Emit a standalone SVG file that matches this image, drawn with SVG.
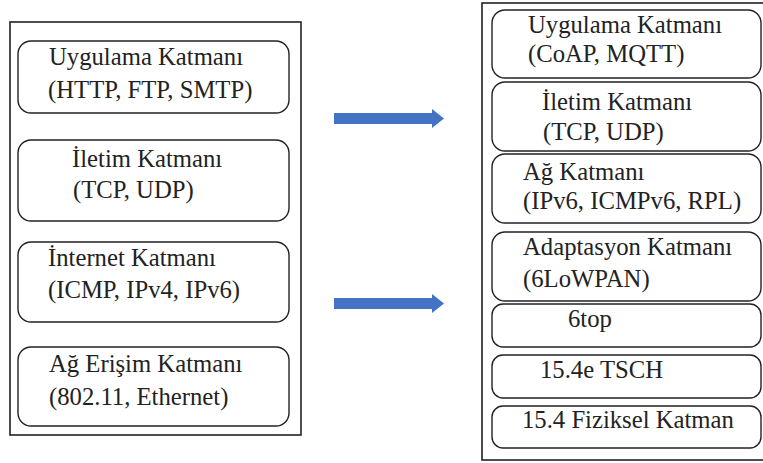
<svg xmlns="http://www.w3.org/2000/svg" width="763" height="463" viewBox="0 0 763 463">
  <style>
    .outer { fill: #ffffff; stroke: #222222; stroke-width: 1.6; }
    .layer { fill: #ffffff; stroke: #222222; stroke-width: 1.4; }
    .t { font-family: 'Liberation Serif', 'DejaVu Serif', serif; font-size: 24.7px; fill: #222222; }
    .arrow { fill: #4472C4; }
  </style>
  <rect x="0" y="0" width="763" height="463" fill="#ffffff"/>

  <g id="left-stack">
    <rect class="outer" x="10" y="22" width="291" height="413"/>
    <g id="l-app">
      <rect class="layer" x="18" y="41" width="271" height="72" rx="13"/>
      <text class="t" x="49" y="65">Uygulama Katmanı</text>
      <text class="t" x="48" y="98">(HTTP, FTP, SMTP)</text>
    </g>
    <g id="l-transport">
      <rect class="layer" x="18" y="140" width="271" height="81" rx="13"/>
      <text class="t" x="72" y="167">İletim Katmanı</text>
      <text class="t" x="73" y="198">(TCP, UDP)</text>
    </g>
    <g id="l-internet">
      <rect class="layer" x="18" y="242" width="271" height="80" rx="13"/>
      <text class="t" x="48" y="266">İnternet Katmanı</text>
      <text class="t" x="48" y="298">(ICMP, IPv4, IPv6)</text>
    </g>
    <g id="l-access">
      <rect class="layer" x="18" y="347" width="271" height="79" rx="13"/>
      <text class="t" x="49" y="372">Ağ Erişim Katmanı</text>
      <text class="t" x="49" y="405">(802.11, Ethernet)</text>
    </g>
  </g>

  <g id="connectors">
    <path class="arrow" d="M334 113 H432 V109 L444 118.5 L432 128 V124 H334 Z"/>
    <path class="arrow" d="M334 298 H432 V294 L444 303.5 L432 313 V309 H334 Z"/>
  </g>

  <g id="right-stack">
    <rect class="outer" x="482" y="3" width="283" height="457"/>
    <g id="r-app">
      <rect class="layer" x="492" y="10" width="269" height="68" rx="13"/>
      <text class="t" x="528" y="33">Uygulama Katmanı</text>
      <text class="t" x="528" y="62">(CoAP, MQTT)</text>
    </g>
    <g id="r-transport">
      <rect class="layer" x="492" y="82" width="269" height="69" rx="13"/>
      <text class="t" x="542" y="110">İletim Katmanı</text>
      <text class="t" x="543" y="140">(TCP, UDP)</text>
    </g>
    <g id="r-network">
      <rect class="layer" x="492" y="154" width="269" height="69" rx="13"/>
      <text class="t" x="523" y="180">Ağ Katmanı</text>
      <text class="t" x="523" y="209">(IPv6, ICMPv6, RPL)</text>
    </g>
    <g id="r-adapt">
      <rect class="layer" x="492" y="232" width="269" height="69" rx="13"/>
      <text class="t" x="523" y="255">Adaptasyon Katmanı</text>
      <text class="t" x="523" y="287">(6LoWPAN)</text>
    </g>
    <g id="r-6top">
      <rect class="layer" x="492" y="304" width="269" height="43" rx="11"/>
      <text class="t" x="568" y="327">6top</text>
    </g>
    <g id="r-tsch">
      <rect class="layer" x="492" y="355" width="269" height="43" rx="11"/>
      <text class="t" x="540" y="378">15.4e TSCH</text>
    </g>
    <g id="r-phy">
      <rect class="layer" x="492" y="406" width="269" height="42" rx="11"/>
      <text class="t" x="522" y="428">15.4 Fiziksel Katman</text>
    </g>
  </g>
</svg>
